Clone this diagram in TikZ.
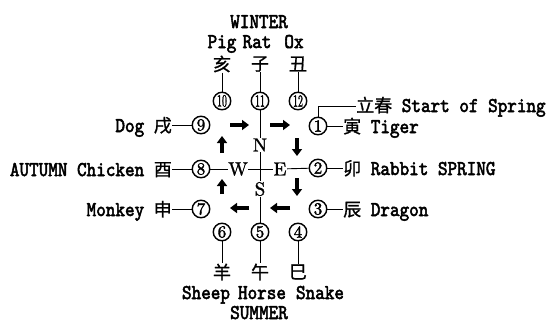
\documentclass[tikz,border=0pt]{standalone}
\usepackage{fontspec}
\usepackage{graphicx}
\usetikzlibrary{arrows.meta}
\newfontfamily\cjk{Noto Sans CJK SC}[FakeBold=1]
\newfontfamily\lab{lmmono10-regular.otf}[FakeStretch=0.87,FakeBold=2.5]
\newfontfamily\rom{lmroman10-regular.otf}[FakeBold=1.2]
\newfontfamily\digits{lmroman10-regular.otf}[FakeBold=2]
\newcommand\zh[1]{{\fontsize{18}{18}\cjk #1}}
\newcommand\narrow[1]{\scalebox{0.58}[1]{#1}}
\tikzset{
  txt/.style={inner sep=0pt, font=\fontsize{21}{21}\lab},
  han/.style={inner sep=0pt, font=\fontsize{18}{18}\cjk},
  num/.style={circle, draw, line width=1.4pt, minimum size=17.5pt, inner sep=0pt,
              font=\fontsize{17}{17}\digits},
  compass/.style={inner sep=0.5pt, font=\fontsize{19}{19}\rom},
  link/.style={line width=0.9pt},
  turn/.style={line width=3.4pt, -{Triangle[length=7pt,width=10pt]}},
}
\begin{document}
\begin{tikzpicture}[x=1pt,y=-1pt]
\useasboundingbox (0,0) rectangle (549,324);

% winter branches
\node[txt, anchor=base] (winter) at (259,28) {WINTER};
\node[txt, anchor=base] (pig) at (222,48) {Pig};
\node[txt, anchor=base] (rat) at (257,48) {Rat};
\node[txt, anchor=base] (ox)  at (294,48) {Ox};
\node[han] (hai)  at (222,64) {亥};
\node[han] (zi)   at (260,64) {子};
\node[han] (chou) at (298,64) {丑};

% the twelve positions
\node[num] (c10) at (222,101) {\narrow{10}};
\node[num] (c11) at (260,101) {\narrow{11}};
\node[num] (c12) at (298,101) {\narrow{12}};
\node[num] (c9)  at (201,125) {9};
\node[num] (c1)  at (318,126) {1};
\node[num] (c8)  at (201,169) {8};
\node[num] (c2)  at (318,168) {2};
\node[num] (c7)  at (201,209) {7};
\node[num] (c3)  at (318,209) {3};
\node[num] (c6)  at (222,232) {6};
\node[num] (c5)  at (260,232) {5};
\node[num] (c4)  at (298,232) {4};

% compass points
\node[compass] (N) at (260,145) {N};
\node[compass] (S) at (260,189) {S};
\node[compass] (W) at (238,169) {W};
\node[compass] (E) at (280,169) {E};

% summer branches
\node[han] (yang) at (222,272) {羊};
\node[han] (wu)   at (260,272) {午};
\node[han] (si)   at (298,272) {巳};
\node[txt, anchor=base] (sheep) at (206,299) {Sheep};
\node[txt, anchor=base] (horse) at (262,299) {Horse};
\node[txt, anchor=base] (snake) at (320,299) {Snake};
\node[txt, anchor=base] (summer) at (259,319) {SUMMER};

% side labels
\node[txt, anchor=base east] (dog)     at (172,132) {Dog \zh{戌}};
\node[txt, anchor=base east] (chicken) at (172,176) {AUTUMN Chicken \zh{酉}};
\node[txt, anchor=base east] (monkey)  at (172,216) {Monkey \zh{申}};
\node[txt, anchor=base west] (spring)  at (356,112) {\zh{立春} Start of Spring};
\node[txt, anchor=base west] (tiger)   at (343,133) {\zh{寅} Tiger};
\node[txt, anchor=base west] (rabbit)  at (343,175) {\zh{卯} Rabbit SPRING};
\node[txt, anchor=base west] (dragon)  at (343,216) {\zh{辰} Dragon};

% connecting lines
\draw[link] (hai) -- (c10);
\draw[link] (zi) -- (c11);
\draw[link] (chou) -- (c12);
\draw[link] (c11) -- (N);
\draw[link] (N) -- (S);
\draw[link] (W) -- (E);
\draw[link] (S) -- (c5);
\draw[link] (c8) -- (W);
\draw[link] (E) -- (c2);
\draw[link] (c6) -- (yang);
\draw[link] (c5) -- (wu);
\draw[link] (c4) -- (si);
\draw[link] (c9.west) -- (c9.west -| dog.east);
\draw[link] (c8.west) -- (c8.west -| chicken.east);
\draw[link] (c7.west) -- (c7.west -| monkey.east);
\draw[link] (c1.east) -- (c1.east -| tiger.west);
\draw[link] (c2.east) -- (c2.east -| rabbit.west);
\draw[link] (c3.east) -- (c3.east -| dragon.west);
\draw[link] (c1.north) |- (spring.west);

% direction of the cycle
\draw[turn] (230,125) -- (249,125);
\draw[turn] (270,125) -- (290,125);
\draw[turn] (297,138) -- (297,156);
\draw[turn] (297,178) -- (297,196);
\draw[turn] (249,208) -- (230,208);
\draw[turn] (290,208) -- (270,208);
\draw[turn] (222,194) -- (222,179);
\draw[turn] (222,153) -- (222,136);
\end{tikzpicture}
\end{document}
